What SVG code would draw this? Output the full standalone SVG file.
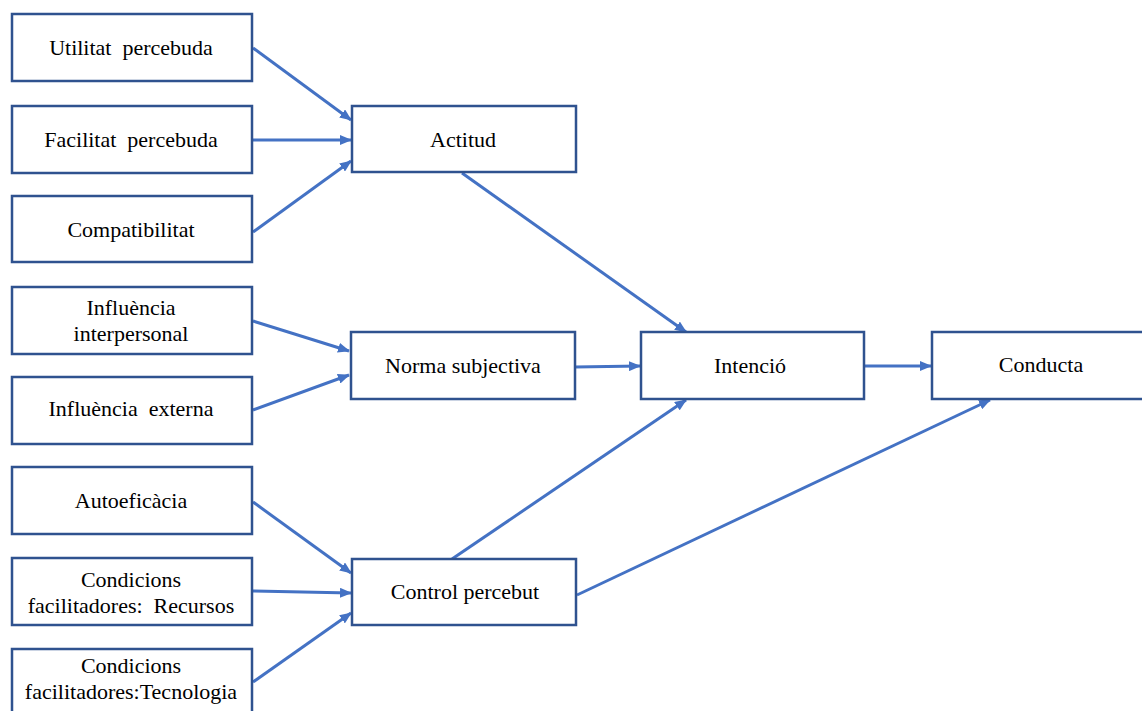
<svg xmlns="http://www.w3.org/2000/svg" width="1142" height="711" viewBox="0 0 1142 711">
  <style>
    .box { fill: #ffffff; stroke: #2f528f; stroke-width: 2.5; }
    .lbl { font-family: "Liberation Serif", "Times New Roman", serif; font-size: 22px; fill: #000000; text-anchor: middle; white-space: pre; }
    .arrow { stroke: #4472c4; stroke-width: 3; fill: none; marker-end: url(#head); }
  </style>
  <defs>
    <marker id="head" markerUnits="userSpaceOnUse" markerWidth="12" markerHeight="10" refX="11" refY="5" orient="auto">
      <path d="M0,0 L12,5 L0,10 Z" fill="#4472c4"/>
    </marker>
  </defs>
  <rect width="1142" height="711" fill="#ffffff"/>

  <!-- connectors -->
  <g id="connectors">
    <line class="arrow" x1="253" y1="48" x2="351" y2="120"/>
    <line class="arrow" x1="253" y1="140" x2="351" y2="140"/>
    <line class="arrow" x1="253" y1="232" x2="351" y2="161"/>
    <line class="arrow" x1="462" y1="173" x2="686" y2="332"/>
    <line class="arrow" x1="253" y1="321" x2="349" y2="351"/>
    <line class="arrow" x1="253" y1="410" x2="349" y2="375"/>
    <line class="arrow" x1="575" y1="367" x2="640" y2="366"/>
    <line class="arrow" x1="864" y1="366" x2="931" y2="366"/>
    <line class="arrow" x1="253" y1="502" x2="351" y2="573"/>
    <line class="arrow" x1="253" y1="591" x2="351" y2="593"/>
    <line class="arrow" x1="253" y1="682" x2="351" y2="613"/>
    <line class="arrow" x1="452" y1="559" x2="686" y2="400"/>
    <line class="arrow" x1="577" y1="595" x2="990" y2="400"/>
  </g>

  <!-- inputs to attitude -->
  <g id="utilitat">
    <rect class="box" x="12" y="14" width="240" height="67"/>
    <text class="lbl" x="131" y="55">Utilitat  percebuda</text>
  </g>
  <g id="facilitat">
    <rect class="box" x="12" y="106" width="240" height="67"/>
    <text class="lbl" x="131" y="147">Facilitat  percebuda</text>
  </g>
  <g id="compatibilitat">
    <rect class="box" x="12" y="196" width="240" height="66"/>
    <text class="lbl" x="131" y="237">Compatibilitat</text>
  </g>

  <!-- inputs to subjective norm -->
  <g id="influencia-interpersonal">
    <rect class="box" x="12" y="287" width="240" height="67"/>
    <text class="lbl" x="131" y="315">Influència</text>
    <text class="lbl" x="131" y="341">interpersonal</text>
  </g>
  <g id="influencia-externa">
    <rect class="box" x="12" y="377" width="240" height="67"/>
    <text class="lbl" x="131" y="416">Influència  externa</text>
  </g>

  <!-- inputs to perceived control -->
  <g id="autoeficacia">
    <rect class="box" x="12" y="467" width="240" height="67"/>
    <text class="lbl" x="131" y="508">Autoeficàcia</text>
  </g>
  <g id="recursos">
    <rect class="box" x="12" y="558" width="240" height="67"/>
    <text class="lbl" x="131" y="587">Condicions</text>
    <text class="lbl" x="131" y="613">facilitadores:  Recursos</text>
  </g>
  <g id="tecnologia">
    <rect class="box" x="12" y="649" width="240" height="70"/>
    <text class="lbl" x="131" y="673">Condicions</text>
    <text class="lbl" x="131" y="699">facilitadores:Tecnologia</text>
  </g>

  <!-- middle constructs -->
  <g id="actitud">
    <rect class="box" x="352" y="106" width="224" height="66"/>
    <text class="lbl" x="463" y="147">Actitud</text>
  </g>
  <g id="norma">
    <rect class="box" x="351" y="332" width="224" height="67"/>
    <text class="lbl" x="463" y="373">Norma subjectiva</text>
  </g>
  <g id="control">
    <rect class="box" x="352" y="559" width="224" height="66"/>
    <text class="lbl" x="465" y="599">Control percebut</text>
  </g>

  <!-- outcomes -->
  <g id="intencio">
    <rect class="box" x="641" y="332" width="223" height="67"/>
    <text class="lbl" x="750" y="373">Intenció</text>
  </g>
  <g id="conducta">
    <rect class="box" x="932" y="332" width="220" height="67"/>
    <text class="lbl" x="1041" y="372">Conducta</text>
  </g>
</svg>
